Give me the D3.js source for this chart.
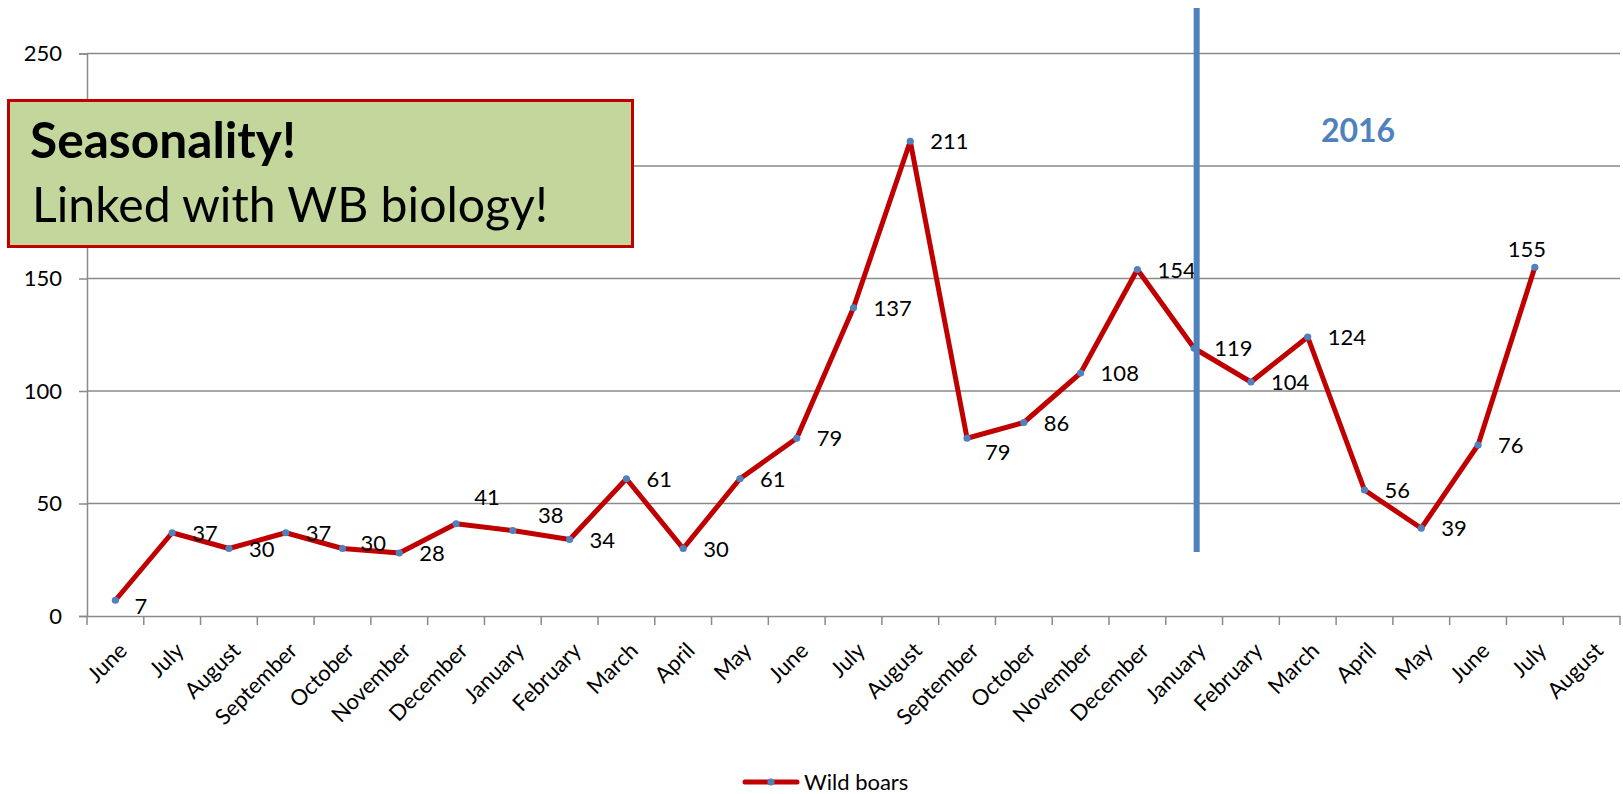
<!DOCTYPE html>
<html>
<head>
<meta charset="utf-8">
<script src="https://cdn.jsdelivr.net/npm/d3@7"></script>
<style>
  html, body { margin: 0; padding: 0; background: #fff; }
  svg { display: block; }
  text { font-family: Lato, "Open Sans", sans-serif; }
</style>
</head>
<body>
<svg id="chart" width="1623" height="794"></svg>
<script>
// ---- data ----
const months = ["June","July","August","September","October","November","December",
  "January","February","March","April","May","June","July","August","September",
  "October","November","December","January","February","March","April","May",
  "June","July","August"];
const wildBoars = [7,37,30,37,30,28,41,38,34,61,30,61,79,137,211,79,86,108,154,119,
  104,124,56,39,76,155];
const yTicks = [0,50,100,150,200,250];
const seriesName = "Wild boars";
const yearLabel = "2016";
const yearStartIndex = 19;
const noteTitle = "Seasonality!";
const noteText = "Linked with WB biology!";

(function () {
// ---- layout ----
const mLeft = 87, mRight = 1620, mTop = 53.5, mBottom = 616;
const red = "#C00000", blue = "#4F81BD", grid = "#8A8A8A";
const noteBox = {x: 8.5, y: 100.5, w: 624, h: 146};

const svg = d3.select("#chart");
const x = d3.scaleBand().domain(d3.range(months.length)).range([mLeft, mRight]);
const y = d3.scaleLinear().domain([0, 250]).range([mBottom, mTop]);
const cx = i => x(i) + x.bandwidth() / 2;

// gridlines
svg.append("g").selectAll("line").data(yTicks.filter(t => t > 0)).join("line")
  .attr("x1", mLeft).attr("x2", mRight)
  .attr("y1", d => y(d)).attr("y2", d => y(d))
  .attr("stroke", grid).attr("stroke-width", 1.5);

// y axis
const yAxis = svg.append("g").attr("transform", `translate(${mLeft},0)`)
  .call(d3.axisLeft(y).tickValues(yTicks).tickSize(8).tickPadding(17));
yAxis.select(".domain").attr("stroke", grid).attr("stroke-width", 1.5);
yAxis.selectAll(".tick line").attr("stroke", grid).attr("stroke-width", 1.5);
yAxis.selectAll(".tick text").attr("font-size", 22).attr("font-family", "Lato")
  .attr("fill", "#000");
// labels fully hidden under the note box are not drawn (as in the reference)
yAxis.selectAll(".tick").filter(d => y(d) > noteBox.y && y(d) < noteBox.y + noteBox.h)
  .select("text").remove();

// x axis
const xAxis = svg.append("g").attr("transform", `translate(0,${mBottom})`)
  .call(d3.axisBottom(x).tickSize(0).tickFormat(i => months[i]));
xAxis.select(".domain").attr("stroke", grid).attr("stroke-width", 1.5);
xAxis.append("g").selectAll("line").data(d3.range(months.length + 1)).join("line")
  .attr("x1", i => mLeft + i * x.step()).attr("x2", i => mLeft + i * x.step())
  .attr("y1", 0).attr("y2", 9)
  .attr("stroke", grid).attr("stroke-width", 1.5);
xAxis.selectAll(".tick text")
  .attr("font-size", 22).attr("font-family", "Lato").attr("fill", "#000")
  .attr("text-anchor", "end")
  .attr("dy", 0).attr("y", 0)
  .attr("transform", "translate(13,36) rotate(-45)");

// line
svg.append("path").datum(wildBoars)
  .attr("fill", "none").attr("stroke", red).attr("stroke-width", 5)
  .attr("stroke-linejoin", "round").attr("stroke-linecap", "round")
  .attr("d", d3.line().x((d, i) => cx(i)).y(d => y(d)));

// markers
svg.append("g").selectAll("circle").data(wildBoars).join("circle")
  .attr("cx", (d, i) => cx(i)).attr("cy", d => y(d)).attr("r", 3.6)
  .attr("fill", blue);

// data labels
const labelPos = {
  0: {dx: 19, dy: 14, a: "start"},
  4: {dx: 18, dy: 2.5, a: "start"},
  6: {dx: 31, dy: -19, a: "middle"},
  7: {dx: 38, dy: -7.5, a: "middle"},
  15: {dx: 18, dy: 22, a: "start"},
  25: {dx: -8, dy: -10, a: "middle"}
};
svg.append("g").selectAll("text").data(wildBoars).join("text")
  .attr("x", (d, i) => cx(i) + (labelPos[i] ? labelPos[i].dx : 20))
  .attr("y", (d, i) => y(d) + (labelPos[i] ? labelPos[i].dy : 8))
  .attr("text-anchor", (d, i) => labelPos[i] ? labelPos[i].a : "start")
  .attr("font-size", 22).attr("fill", "#000")
  .text(d => d);

// note box
const box = svg.append("g");
box.append("rect").attr("x", noteBox.x).attr("y", noteBox.y)
  .attr("width", noteBox.w).attr("height", noteBox.h)
  .attr("fill", "#C3D69B").attr("stroke", red).attr("stroke-width", 3);
function fitText(sel, target) {
  sel.attr("font-size", 100);
  const len = sel.node().getComputedTextLength();
  sel.attr("font-size", 100 * target / len);
}
const note = box.append("text").attr("fill", "#000");
const t1 = note.append("tspan").attr("x", 30).attr("y", 158).attr("font-weight", "bold")
  .text(noteTitle);
fitText(t1, 266);
const t2 = note.append("tspan").attr("x", 32).attr("y", 221.5)
  .text(noteText);
fitText(t2, 516);

// year divider
const divX = cx(yearStartIndex) + 2.5;
svg.append("line").attr("x1", divX).attr("x2", divX).attr("y1", 8).attr("y2", 552)
  .attr("stroke", blue).attr("stroke-width", 6);
svg.append("text").attr("x", 1358).attr("y", 142).attr("text-anchor", "middle")
  .attr("font-size", 32).attr("font-weight", "bold").attr("fill", blue)
  .text(yearLabel);

// legend
const lg = svg.append("g");
lg.append("line").attr("x1", 745).attr("x2", 797).attr("y1", 782).attr("y2", 782)
  .attr("stroke", red).attr("stroke-width", 5).attr("stroke-linecap", "round");
lg.append("circle").attr("cx", 771).attr("cy", 782).attr("r", 3.6).attr("fill", blue);
lg.append("text").attr("x", 804).attr("y", 790).attr("font-size", 22).attr("fill", "#000")
  .text(seriesName);
})();
</script>
</body>
</html>
